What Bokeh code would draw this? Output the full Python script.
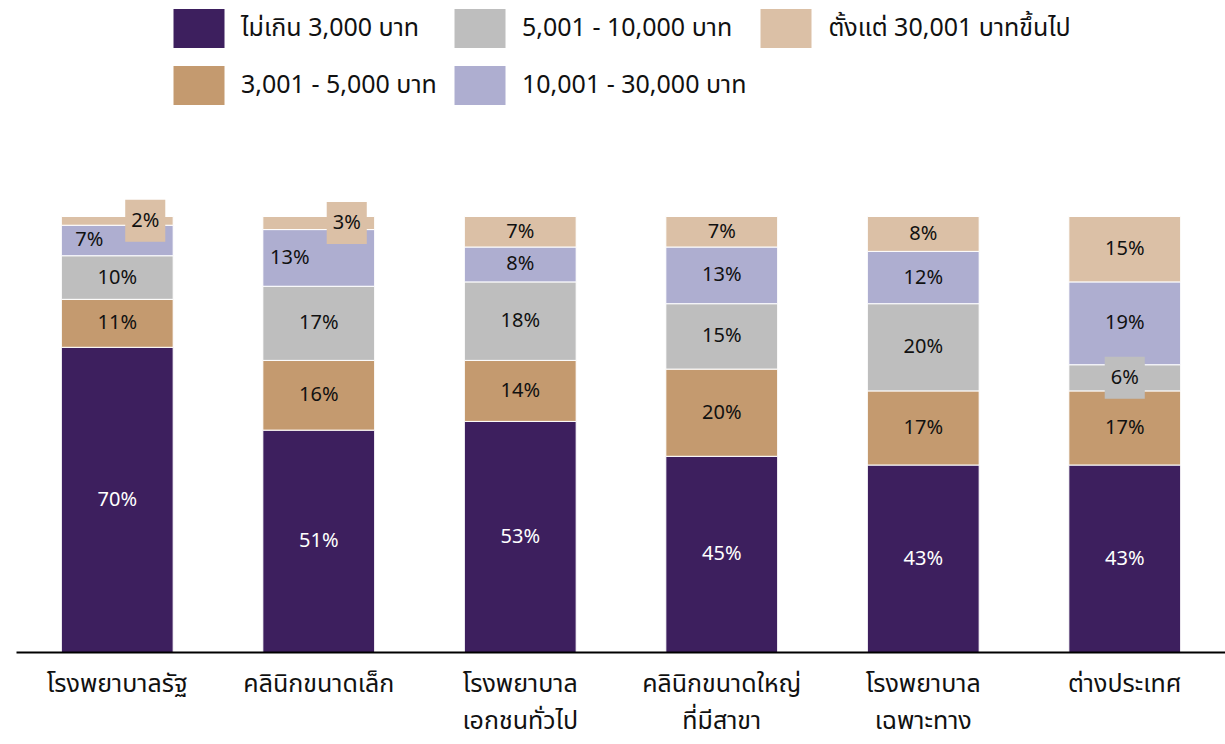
from bokeh.plotting import figure
from bokeh.models import ColumnDataSource, FactorRange, Legend, LegendItem
from bokeh.core.properties import value
from bokeh.embed import file_html
from bokeh.resources import INLINE

categories = ["โรงพยาบาลรัฐ", "คลินิกขนาดเล็ก", "โรงพยาบาล\nเอกชนทั่วไป",
              "คลินิกขนาดใหญ่\nที่มีสาขา", "โรงพยาบาล\nเฉพาะทาง", "ต่างประเทศ"]
series_names = ["ไม่เกิน 3,000 บาท", "3,001 - 5,000 บาท", "5,001 - 10,000 บาท",
                "10,001 - 30,000 บาท", "ตั้งแต่ 30,001 บาทขึ้นไป"]
s1 = [70, 51, 53, 45, 43, 43]
s2 = [11, 16, 14, 20, 17, 17]
s3 = [10, 17, 18, 15, 20, 6]
s4 = [7, 13, 8, 13, 12, 19]
s5 = [2, 3, 7, 7, 8, 15]
series = [s1, s2, s3, s4, s5]

colors = ["#3D1F5E", "#C49A6F", "#BEBEBE", "#AEAED0", "#DBC0A6"]
FONT_STR = "'Noto Sans Thai', 'Noto Sans', sans-serif"
FONT = value(FONT_STR)
FS_LAB = "20px"
FS_TXT = "25px"

# label styling: (series index, category index) -> x offset in px, boxed
label_dx = {(3, 0): -28, (4, 0): 28, (3, 1): -29, (4, 1): 28}
boxed = {(4, 0), (4, 1), (2, 5)}

W, H = 1225, 744
AXIS_PANEL = 92        # space below the frame
UNIT_PX = 436          # pixels for 100%

p = figure(x_range=FactorRange(*categories, range_padding=0),
           y_range=(0, (H - AXIS_PANEL) / UNIT_PX),
           width=W, height=H, output_backend="svg", toolbar_location=None,
           min_border_left=16, min_border_right=0, min_border_top=0,
           min_border_bottom=AXIS_PANEL)

keys = [f"s{i}" for i in range(5)]
data = {"cat": categories}
for k, s in zip(keys, series):
    data[k] = [v / 100 for v in s]
src = ColumnDataSource(data)
rs = p.vbar_stack(keys, x="cat", width=0.555, source=src, color=colors,
                  line_color="white", line_width=1)

# labels
lx, ly, lt, lc, ldx, lbg, lba = [], [], [], [], [], [], []
for ci, cat in enumerate(categories):
    cum = 0.0
    for si, s in enumerate(series):
        v = s[ci] / 100
        lx.append(cat)
        ly.append(cum + v / 2)
        lt.append(f"{s[ci]}%")
        lc.append("white" if si == 0 else "#111111")
        ldx.append(label_dx.get((si, ci), 0))
        lbg.append(colors[si])
        lba.append(1.0 if (si, ci) in boxed else 0.0)
        cum += v
lsrc = ColumnDataSource(dict(x=lx, y=ly, t=lt, c=lc, dx=ldx, bg=lbg, ba=lba))
p.text(x="x", y="y", text="t", source=lsrc, text_color="c", x_offset="dx",
       text_align="center", text_baseline="middle", text_font=FONT, text_font_size=FS_LAB,
       background_fill_color="bg", background_fill_alpha="ba", padding=6)

# legend (column-major order as in the reference: 3 columns, 2 rows)
order = [0, 2, 4, 1, 3]
items = [LegendItem(label=series_names[i], renderers=[rs[i]]) for i in order]
legend = Legend(items=items, location=(150, 542), orientation="horizontal", ncols=3,
                glyph_width=65, glyph_height=50, label_height=50, label_width=199,
                label_text_font=FONT_STR, label_text_font_size=FS_TXT,
                label_text_color="#111111", label_standoff=10, spacing=7,
                padding=0, margin=0, border_line_color=None, background_fill_alpha=0)
p.add_layout(legend, "center")

p.yaxis.visible = False
p.xgrid.grid_line_color = None
p.ygrid.grid_line_color = None
p.outline_line_color = None
ax = p.xaxis[0]
ax.axis_line_color = "black"
ax.axis_line_width = 2
ax.major_tick_line_color = None
ax.minor_tick_line_color = None
ax.major_label_text_font = FONT_STR
ax.major_label_text_font_size = FS_TXT
ax.major_label_text_color = "#111111"
ax.major_label_standoff = 6
ax.major_label_text_line_height = 0.99

open("out.html", "w").write(file_html(p, INLINE))
